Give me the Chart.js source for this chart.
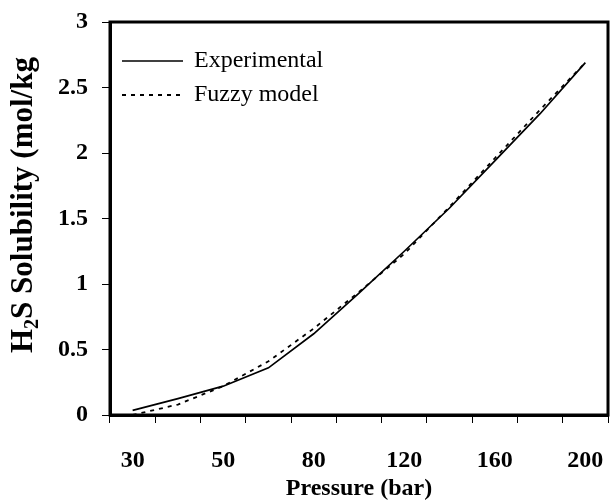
<!DOCTYPE html>
<html>
<head>
<meta charset="utf-8">
<script src="https://cdn.jsdelivr.net/npm/chart.js@4.4.0/dist/chart.umd.min.js"></script>
<style>
  body { margin: 0; background: #fff; }
  #wrap { width: 610px; height: 501px; }
</style>
</head>
<body>
<div id="wrap"><canvas id="solubilidadChart"></canvas></div>
<script>
// categorias de presion (bar), solo se rotulan las pares
const presiones = ["30", "40", "50", "65", "80", "100", "120", "140", "160", "180", "200"];

// solubilidad H2S (mol/kg)
const experimental = [0.035, 0.125, 0.22, 0.36, 0.62, 0.93, 1.25, 1.58, 1.94, 2.30, 2.69];
const modeloFuzzy = [0.0, 0.08, 0.22, 0.41, 0.66, 0.94, 1.23, 1.59, 1.96, 2.33, 2.69];

const etiquetasY = ["0", "0.5", "1", "1.5", "2", "2.5", "3"];

const fuente = "'Liberation Serif', 'Times New Roman', serif";

// marco, leyenda y titulo del eje Y (con subindice)
const extras = {
  id: "extras",
  afterDraw(chart) {
    const ctx = chart.ctx;
    const area = chart.chartArea;
    ctx.save();

    ctx.strokeStyle = "#000";
    ctx.lineWidth = 3;
    ctx.strokeRect(area.left, area.top, area.right - area.left, area.bottom - area.top);

    // leyenda
    chart.data.datasets.forEach((ds, i) => {
      const y = 61 + i * 34;
      ctx.beginPath();
      ctx.lineWidth = ds.borderWidth;
      ctx.setLineDash(ds.borderDash || []);
      ctx.moveTo(122, y);
      ctx.lineTo(183, y);
      ctx.stroke();
      ctx.setLineDash([]);
      ctx.fillStyle = "#000";
      ctx.font = "24px " + fuente;
      ctx.textBaseline = "middle";
      ctx.textAlign = "left";
      ctx.fillText(ds.label, 194, y);
    });

    // titulo Y
    ctx.translate(32, 353);
    ctx.rotate(-Math.PI / 2);
    ctx.textBaseline = "alphabetic";
    ctx.fillStyle = "#000";
    let x = 0;
    ctx.font = "bold 31px " + fuente;
    ctx.fillText("H", x, 0);
    x += ctx.measureText("H").width;
    ctx.font = "bold 20px " + fuente;
    ctx.fillText("2", x, 6);
    x += ctx.measureText("2").width;
    ctx.font = "bold 31px " + fuente;
    ctx.fillText("S Solubility (mol/kg", x, 0);
    ctx.restore();
  },
};

document.addEventListener("DOMContentLoaded", function () {
  const ctx = document.getElementById("solubilidadChart").getContext("2d");

  new Chart(ctx, {
    type: "line",
    data: {
      labels: presiones,
      datasets: [
        {
          label: "Experimental",
          data: experimental,
          borderColor: "#000",
          borderWidth: 1.7,
          pointRadius: 0,
          tension: 0,
        },
        {
          label: "Fuzzy model",
          data: modeloFuzzy,
          borderColor: "#000",
          borderWidth: 1.8,
          borderDash: [4, 5],
          pointRadius: 0,
          tension: 0,
        },
      ],
    },
    options: {
      responsive: true,
      maintainAspectRatio: false,
      animation: false,
      layout: { padding: { top: 22, right: 2, left: 0, bottom: 0 } },
      plugins: {
        legend: { display: false },
        tooltip: { enabled: false },
      },
      scales: {
        x: {
          offset: true,
          grid: {
            offset: true,
            drawOnChartArea: false,
            drawTicks: true,
            tickLength: 8,
            color: "#000",
          },
          border: { display: true, color: "#000", width: 3 },
          ticks: {
            autoSkip: false,
            maxRotation: 0,
            padding: 23,
            color: "#000",
            font: { family: fuente, size: 24, weight: "bold" },
            callback: function (valor, i) {
              return i % 2 === 0 ? presiones[i] : "";
            },
          },
          title: {
            display: true,
            text: "Pressure (bar)",
            color: "#000",
            font: { family: fuente, size: 24, weight: "bold", lineHeight: 1 },
            padding: { top: 0, bottom: 0 },
          },
          afterFit: function (scale) {
            scale.height = 86;
            scale.paddingLeft = 0;
            scale.paddingRight = 0;
          },
        },
        y: {
          min: 0,
          max: 3,
          grid: {
            drawOnChartArea: false,
            drawTicks: true,
            tickLength: 8,
            color: "#000",
          },
          border: { display: true, color: "#000", width: 3 },
          ticks: {
            stepSize: 0.5,
            padding: 14,
            color: "#000",
            font: { family: fuente, size: 24, weight: "bold" },
            callback: function (valor, i) {
              return etiquetasY[i];
            },
          },
          afterFit: function (scale) {
            scale.width = 110;
            scale.paddingTop = 0;
            scale.paddingBottom = 0;
          },
        },
      },
    },
    plugins: [extras],
  });
});
</script>
</body>
</html>
